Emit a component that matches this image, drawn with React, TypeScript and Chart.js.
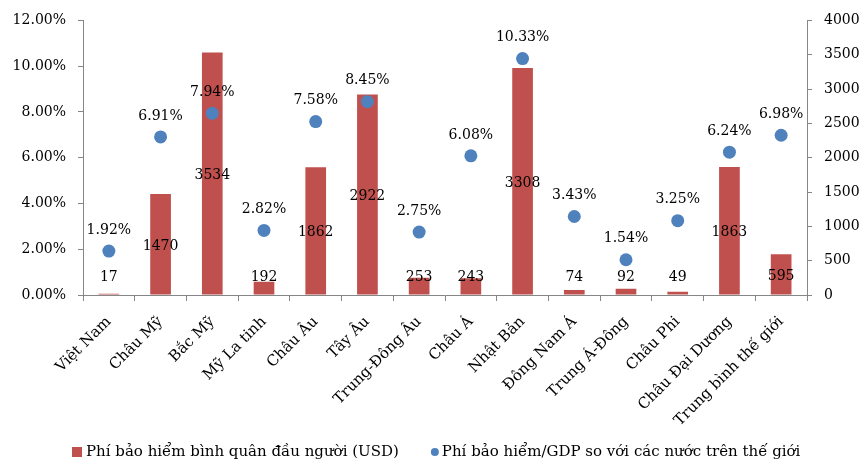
import React, { useEffect, useRef } from "react";
import { Chart, registerables } from "chart.js";

Chart.register(...registerables);

const categories = [
  "Việt Nam", "Châu Mỹ", "Bắc Mỹ", "Mỹ La tinh", "Châu Âu", "Tây Âu",
  "Trung-Đông Âu", "Châu Á", "Nhật Bản", "Đông Nam Á", "Trung Á-Đông",
  "Châu Phi", "Châu Đại Dương", "Trung bình thế giới",
];
const premiumPerCapita = [17, 1470, 3534, 192, 1862, 2922, 253, 243, 3308, 74, 92, 49, 1863, 595];
const premiumToGdp = [1.92, 6.91, 7.94, 2.82, 7.58, 8.45, 2.75, 6.08, 10.33, 3.43, 1.54, 3.25, 6.24, 6.98];
const barLabel = "Phí bảo hiểm bình quân đầu người (USD)";
const pointLabel = "Phí bảo hiểm/GDP so với các nước trên thế giới";

const FONT = "'DejaVu Serif', serif";
const NSIZE = 14;
const TSIZE = 15;
const AXIS = "#868686";
const RED = "#C0504D";
const BLUE = "#4F81BD";

const labelPlugin = {
  id: "valueLabels",
  afterDatasetsDraw(chart: any) {
    const ctx = chart.ctx;
    ctx.save();
    ctx.font = `${NSIZE}px ${FONT}`;
    ctx.fillStyle = "#000";
    ctx.textAlign = "center";
    ctx.textBaseline = "middle";
    const bottom = chart.chartArea.bottom;
    const barMeta = chart.getDatasetMeta(0);
    barMeta.data.forEach((el: any, i: number) => {
      const center = (el.y + el.base) / 2 + 2;
      const y = Math.min(center, bottom - 18);
      ctx.fillText(String(premiumPerCapita[i]), el.x, y);
    });
    const ptMeta = chart.getDatasetMeta(1);
    ptMeta.data.forEach((el: any, i: number) => {
      ctx.fillText(premiumToGdp[i].toFixed(2) + "%", el.x, el.y - 21);
    });

    // legend
    ctx.font = `${TSIZE}px ${FONT}`;
    const w1 = ctx.measureText(barLabel).width;
    let x = 72;
    const ly = 452;
    ctx.textAlign = "left";
    ctx.fillStyle = RED;
    ctx.fillRect(x, ly - 5, 10, 10);
    x += 14;
    ctx.fillStyle = "#000";
    ctx.fillText(barLabel, x, ly);
    x += w1 + 32;
    ctx.fillStyle = BLUE;
    ctx.beginPath();
    ctx.arc(x + 4, ly, 4, 0, Math.PI * 2);
    ctx.fill();
    x += 11;
    ctx.fillStyle = "#000";
    ctx.fillText(pointLabel, x, ly);
    ctx.restore();
  },
};

export default function App() {
  const ref = useRef<HTMLCanvasElement>(null);
  useEffect(() => {
    if (!ref.current) return;
    const chart = new Chart(ref.current, {
      type: "bar",
      data: {
        labels: categories,
        datasets: [
          {
            type: "bar",
            label: barLabel,
            data: premiumPerCapita,
            backgroundColor: RED,
            yAxisID: "y1",
            barPercentage: 0.4,
            categoryPercentage: 1,
            order: 2,
          },
          {
            type: "line",
            label: pointLabel,
            data: premiumToGdp,
            showLine: false,
            backgroundColor: BLUE,
            borderColor: BLUE,
            pointRadius: 6.5,
            pointBorderWidth: 0,
            yAxisID: "y",
            order: 1,
          },
        ],
      },
      options: {
        animation: false,
        responsive: true,
        maintainAspectRatio: false,
        layout: { padding: { top: 20, left: 0, right: 0, bottom: 0 } },
        plugins: {
          tooltip: { enabled: false },
          legend: { display: false },
        },
        scales: {
          x: {
            offset: true,
            grid: {
              offset: true,
              drawOnChartArea: false,
              drawTicks: true,
              tickLength: 6,
              color: AXIS,
            },
            border: { display: true, color: AXIS },
            ticks: {
              maxRotation: 45,
              minRotation: 45,
              padding: 12,
              color: "#000",
              font: { family: FONT, size: TSIZE },
              autoSkip: false,
            },
            afterFit: (s: any) => { s.height = 166; },
          },
          y: {
            position: "left",
            min: 0,
            max: 12,
            grid: { drawOnChartArea: false, tickLength: 5, color: AXIS },
            border: { display: true, color: AXIS },
            ticks: {
              stepSize: 2,
              color: "#000",
              font: { family: FONT, size: NSIZE },
              padding: 12,
              callback: (v: any) => Number(v).toFixed(2) + "%",
            },
            afterFit: (s: any) => { s.width = 83; },
          },
          y1: {
            position: "right",
            min: 0,
            max: 4000,
            grid: { drawOnChartArea: false, tickLength: 5, color: AXIS },
            border: { display: true, color: AXIS },
            ticks: {
              stepSize: 500,
              color: "#000",
              font: { family: FONT, size: NSIZE },
              padding: 12,
              callback: (v: any) => String(v),
            },
            afterFit: (s: any) => { s.width = 52; },
          },
        },
      },
      plugins: [labelPlugin],
    });
    return () => chart.destroy();
  }, []);
  return (
    <div style={{ position: "fixed", left: 0, top: 0, width: 859, height: 461, background: "#fff" }}>
      <canvas ref={ref} />
    </div>
  );
}
